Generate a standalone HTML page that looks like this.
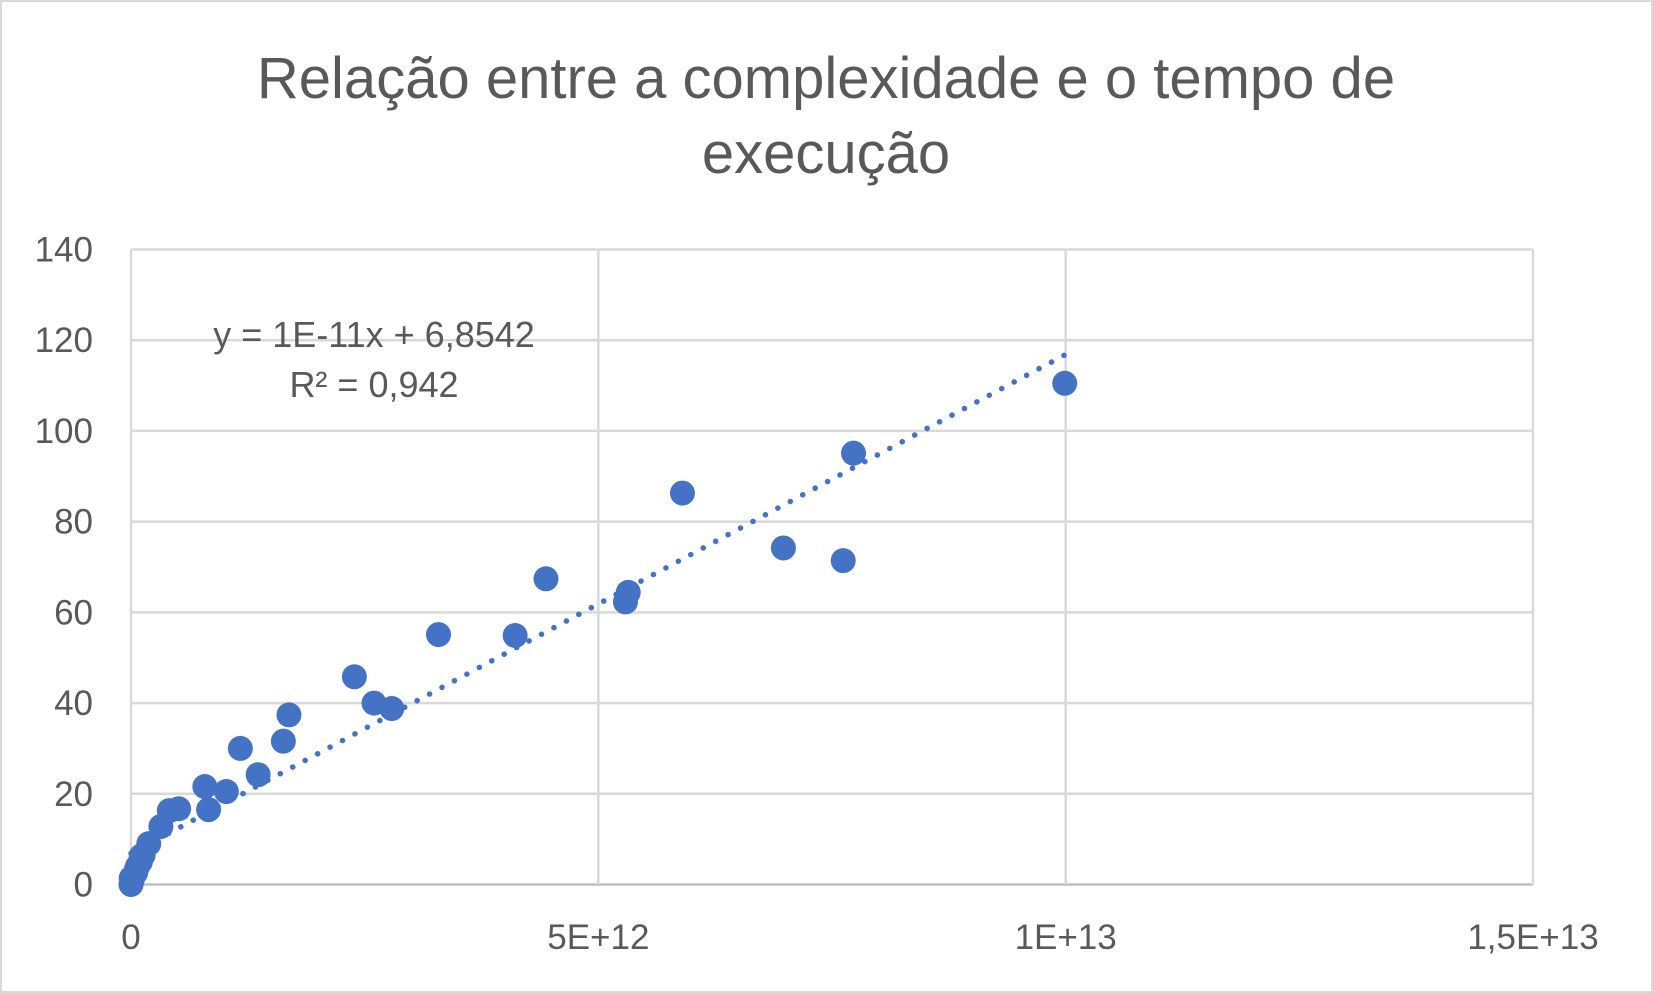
<!DOCTYPE html>
<html><head><meta charset="utf-8"><style>
html,body{margin:0;padding:0;background:#fff}
svg{display:block}
</style></head><body>
<svg id="chart" width="1653" height="993" viewBox="0 0 1653 993" xmlns="http://www.w3.org/2000/svg" font-family="'Liberation Sans', sans-serif">
<rect x="1" y="1" width="1651" height="991" fill="#fff" stroke="#d9d9d9" stroke-width="2"/>
<text x="826" y="98" text-anchor="middle" font-size="58" fill="#595959">Relação entre a complexidade e o tempo de</text>
<text x="826" y="173" text-anchor="middle" font-size="58" fill="#595959">execução</text>
<g id="grid"></g><g id="ticks"></g><g id="trend"></g><g id="points"></g>
<text x="374" y="347" text-anchor="middle" font-size="36" fill="#595959">y = 1E-11x + 6,8542</text>
<text x="374" y="397" text-anchor="middle" font-size="36" fill="#595959">R² = 0,942</text>
</svg>
<script>
const xTicks=[0,5e12,1e13,1.5e13];
const xTickLabels=["0","5E+12","1E+13","1,5E+13"];
const yTicks=[0,20,40,60,80,100,120,140];
const yTickLabels=["0","20","40","60","80","100","120","140"];
const xVals=[0,0.0002e13,0.005e13,0.007e13,0.01e13,0.011e13,0.013e13,0.019e13,0.032e13,0.041e13,0.051e13,0.079e13,0.083e13,0.102e13,0.117e13,0.136e13,0.163e13,0.169e13,0.239e13,0.26e13,0.279e13,0.329e13,0.411e13,0.444e13,0.529e13,0.532e13,0.59e13,0.698e13,0.762e13,0.773e13,0.999e13,0.001e13,0.003e13,0.006e13];
const yVals=[0,1.4,2.6,4,5,6.3,6.5,9,12.8,16.3,16.7,21.6,16.5,20.5,30,24.2,31.6,37.4,45.8,40,38.8,55.1,54.9,67.4,62.3,64.4,86.3,74.2,71.4,95.1,110.5,0.8,2,3.5];
const trendSlope=1.1e-11, trendIntercept=6.8542, trendRange=[0,1e13];
const X0=131,X1=1533,Y0=884.5,Y1=249.5;
const xs=v=>X0+(v-0)/(1.5e13)*(X1-X0);
const ys=v=>Y0-(v/140)*(Y0-Y1);
const NS="http://www.w3.org/2000/svg";
function mk(t,a,p){const e=document.createElementNS(NS,t);for(const k in a)e.setAttribute(k,a[k]);p.appendChild(e);return e;}
const grid=document.getElementById('grid'),ticks=document.getElementById('ticks');
yTicks.forEach((v,i)=>{
 const l=mk('line',{x1:X0,x2:X1,y1:ys(v),y2:ys(v),stroke:v===0?'#bfbfbf':'#d9d9d9','stroke-width':2.5},grid);
 
 
 const t=mk('text',{x:93,y:ys(v)+12,'text-anchor':'end','font-size':35,fill:'#595959'},ticks);
 t.textContent=yTickLabels[i];
 
 
});
xTicks.forEach((v,i)=>{
 const l=mk('line',{x1:xs(v),x2:xs(v),y1:Y1,y2:Y0,stroke:'#d9d9d9','stroke-width':2.5},grid);
 
 
 const t=mk('text',{x:xs(v),y:949,'text-anchor':'middle','font-size':35,fill:'#595959'},ticks);
 t.textContent=xTickLabels[i];
 
 
});
const tr=mk('line',{x1:xs(trendRange[0]),y1:ys(trendSlope*trendRange[0]+trendIntercept),x2:xs(trendRange[1]),y2:ys(trendSlope*trendRange[1]+trendIntercept),stroke:'#4472c4','stroke-width':5.5,'stroke-dasharray':'0.1 14','stroke-linecap':'round'},document.getElementById('trend'));


const pts=document.getElementById('points');
xVals.forEach((x,i)=>{
 const c=mk('circle',{cx:xs(x),cy:ys(yVals[i]),r:12.5,fill:'#4472c4'},pts);
 
 
});
</script>
</body></html>
